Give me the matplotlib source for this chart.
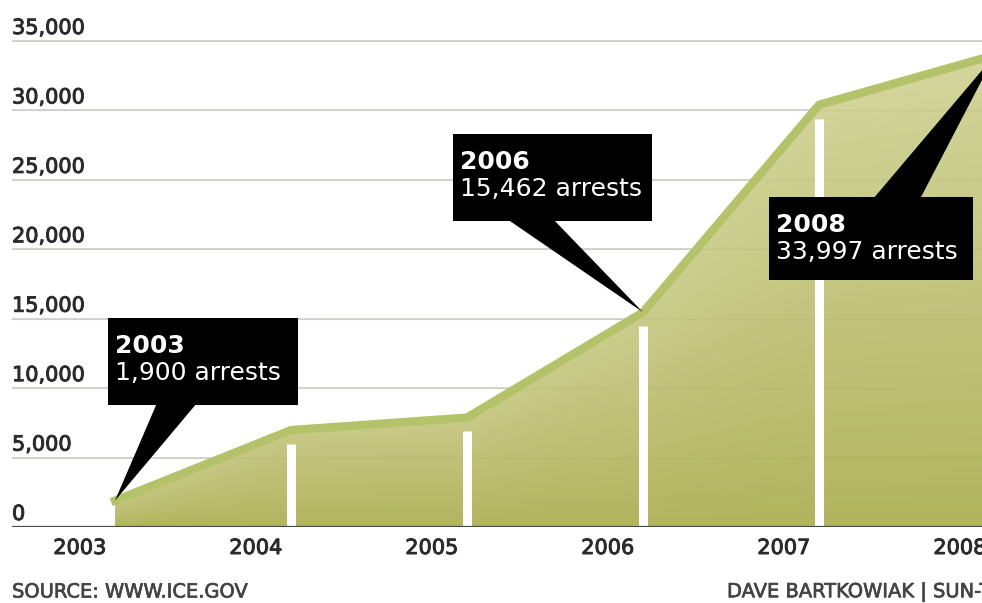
import numpy as np
import matplotlib.pyplot as plt
import matplotlib.patheffects as pe
from matplotlib.patches import Polygon, Rectangle
from matplotlib.colors import LinearSegmentedColormap

# Daten
years = [2003, 2004, 2005, 2006, 2007, 2008]
arrests = [1900, 6979, 7882, 15462, 30407, 33997]
y_ticks = [0, 5000, 10000, 15000, 20000, 25000, 30000, 35000]
y_labels = ['0', '5,000', '10,000', '15,000', '20,000', '25,000', '30,000', '35,000']
year_labels = ['2003', '2004', '2005', '2006', '2007', '2008']
callout_idx = [0, 3, 5]
callout_text = ['1,900 arrests', '15,462 arrests', '33,997 arrests']

# Layout in Bildpixeln (Box links, oben, rechts, unten; Keilbasis x1, x2)
boxes = [(108, 318, 298, 405), (453, 134, 652, 221), (769, 197, 973, 280)]
wedges = [(157, 197, 'bottom'), (507, 553, 'bottom'), (873, 920, 'top')]

W, H = 982, 603
plt.rcParams['font.family'] = ['DejaVu Sans']
fig = plt.figure(figsize=(W / 100, H / 100), dpi=100)
ax = fig.add_axes([12 / W, (H - 527) / H, 970 / W, 527 / H])

px_per_year = 176
ppk = (527 - 41) / 35.0  # Pixel pro 1000
ax.set_xlim(2003 - (115 - 12) / px_per_year, 2003 + (982 - 115) / px_per_year)
ax.set_ylim(0, 527 / ppk * 1000)
ax.axis('off')


def px2data(x, y):
    return ax.transData.inverted().transform((x, H - y))


# Gitterlinien
for v in y_ticks[1:]:
    ax.axhline(v, color='#d0d0d0', lw=1.2, zorder=1)
    ax.axhline(v, color='#8a8c50', lw=1.0, alpha=0.10, zorder=2.5)

# Flaeche mit Verlauf
x0, x1 = ax.get_xlim()
y1 = ax.get_ylim()[1]
xs = np.linspace(x0, x1, 700)
ys = np.linspace(0, y1, 600)
top = np.interp(xs, years, arrests)
frac = np.clip(ys[:, None] / top[None, :], 0, 1)
t = 0.55 * frac + 0.45 * np.clip(ys[:, None] / 35000, 0, 1)
cmap = LinearSegmentedColormap.from_list('olive', ['#b2b55d', '#c3c57f', '#d4d69c'])
im = ax.imshow(t, origin='lower', extent=(x0, x1, 0, y1), aspect='auto',
               cmap=cmap, vmin=0, vmax=1, zorder=2, interpolation='bilinear')
verts = [(years[0], 0)] + list(zip(years, arrests)) + [(years[-1], 0)]
area = Polygon(verts, closed=True, facecolor='none', edgecolor='none')
ax.add_patch(area)
im.set_clip_path(area)

# weisse Trennstreifen
for yr, v in zip(years[1:-1], arrests[1:-1]):
    ax.vlines(yr, 0, v - 1000, color='white', lw=6.5, zorder=3)

# obere Kante
ax.plot(years, arrests, color='#b4c26a', lw=6, zorder=4, solid_joinstyle='round')

# Grundlinie
ax.axhline(0, color='#4a4a4a', lw=1.6, zorder=5)

# Achsenbeschriftungen
thick = [pe.withStroke(linewidth=0.7, foreground='#2b2b2b')]
for v, lab in zip(y_ticks, y_labels):
    ax.text(x0, v + 13 / ppk * 1000, lab, fontsize=15, color='#2b2b2b',
            ha='left', va='center', zorder=6, path_effects=thick)
for yr, lab in zip(years, year_labels):
    ax.text(yr - 0.2, -21 / ppk * 1000, lab, fontsize=15, color='#2b2b2b',
            ha='center', va='center', clip_on=False, path_effects=thick)

# Callouts
for k, i in enumerate(callout_idx):
    l, tp, r, b = boxes[k]
    (dl, dt), (dr, db) = px2data(l, tp), px2data(r, b)
    ax.add_patch(Rectangle((dl, db), dr - dl, dt - db, facecolor='black',
                           edgecolor='none', zorder=7))
    wx1, wx2, side = wedges[k]
    yb = b - 2 if side == 'bottom' else tp + 2
    p1, p2 = px2data(wx1, yb), px2data(wx2, yb)
    ax.add_patch(Polygon([p1, p2, (years[i], arrests[i])], closed=True,
                         facecolor='black', edgecolor='none', zorder=7))
    tx, ty1 = px2data(l + 7, tp + 28)
    _, ty2 = px2data(l + 7, tp + 55)
    ax.text(tx, ty1, year_labels[i], color='white', fontsize=18,
            fontweight='bold', ha='left', va='center', zorder=8)
    ax.text(tx, ty2, callout_text[k], color='white', fontsize=18,
            ha='left', va='center', zorder=8)

# Quelle und Autor
src = [pe.withStroke(linewidth=0.5, foreground='#444444')]
fig.text(12 / W, 1 - 592 / H, 'SOURCE: WWW.ICE.GOV', fontsize=14, color='#444444',
         ha='left', va='center', path_effects=src)
fig.text(727 / W, 1 - 592 / H, 'DAVE BARTKOWIAK | SUN-TIMES', fontsize=14,
         color='#444444', ha='left', va='center', path_effects=src)

fig.savefig('out.png', dpi=100)
